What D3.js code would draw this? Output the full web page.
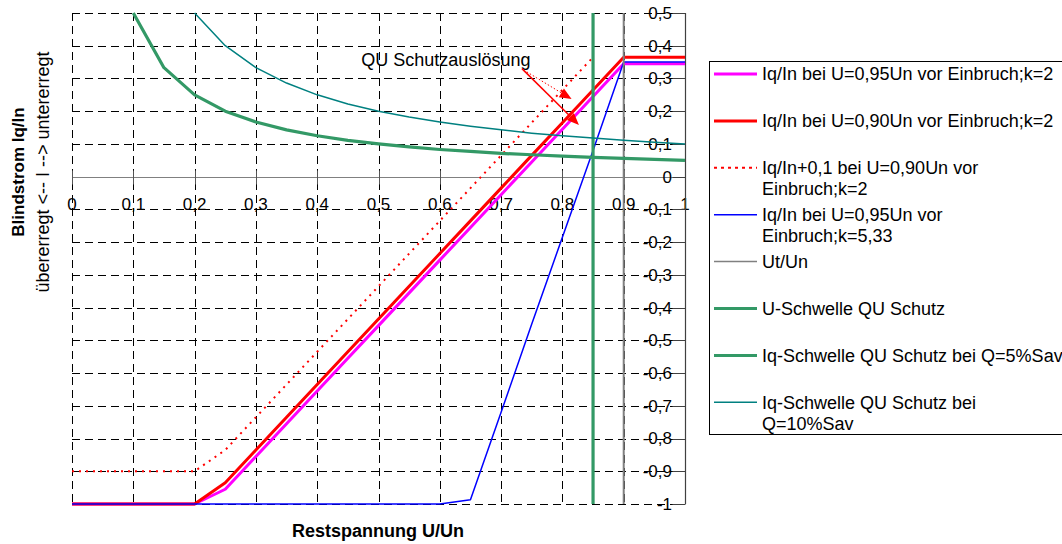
<!DOCTYPE html>
<html>
<head>
<meta charset="utf-8">
<script src="https://cdn.jsdelivr.net/npm/d3@7"></script>
<style>
  body { margin: 0; background: #fff; }
  svg { display: block; font-family: "Liberation Sans", Arial, sans-serif; }
</style>
</head>
<body>
<div id="container"></div>
<script>
// Restspannung U/Un (x values, step 0.05)
const uValues = [0, 0.05, 0.1, 0.15, 0.2, 0.25, 0.3, 0.35, 0.4, 0.45, 0.5,
                 0.55, 0.6, 0.65, 0.7, 0.75, 0.8, 0.85, 0.9, 0.95, 1];

const iq095k2 = [-1, -1, -1, -1, -1, -0.955, -0.855, -0.755, -0.655, -0.555, -0.455,
                 -0.355, -0.255, -0.155, -0.055, 0.045, 0.145, 0.245, 0.345, 0.345, 0.345];
const iq090k2 = [-1, -1, -1, -1, -1, -0.935, -0.835, -0.735, -0.635, -0.535, -0.435,
                 -0.335, -0.235, -0.135, -0.035, 0.065, 0.165, 0.265, 0.365, 0.365, 0.365];
const iq090k2plus = [-0.9, -0.9, -0.9, -0.9, -0.9, -0.835, -0.735, -0.635, -0.535, -0.435, -0.335,
                     -0.235, -0.135, -0.035, 0.065, 0.165, 0.265, 0.365, null, null, null];
const iq095k533 = [-1, -1, -1, -1, -1, -1, -1, -1, -1, -1, -1,
                   -1, -1, -0.987, -0.72, -0.45, -0.185, 0.08, 0.35, 0.35, 0.35];
const iqSchwelle5 = [null, null, 0.5, 0.333, 0.25, 0.2, 0.167, 0.143, 0.125, 0.111, 0.1,
                     0.091, 0.083, 0.077, 0.071, 0.067, 0.063, 0.059, 0.056, 0.053, 0.05];
const iqSchwelle10 = [null, null, null, null, 0.5, 0.4, 0.333, 0.286, 0.25, 0.222, 0.2,
                      0.182, 0.167, 0.154, 0.143, 0.133, 0.125, 0.118, 0.111, 0.105, 0.1];
const utUn = 0.9;        // vertical line Ut/Un
const uSchwelle = 0.85;  // U-Schwelle QU Schutz

const xTicks = [0, 0.1, 0.2, 0.3, 0.4, 0.5, 0.6, 0.7, 0.8, 0.9, 1];
const yTicks = [0.5, 0.4, 0.3, 0.2, 0.1, 0, -0.1, -0.2, -0.3, -0.4, -0.5, -0.6, -0.7, -0.8, -0.9, -1];

const legendLabels = [
    ["Iq/In bei U=0,95Un vor Einbruch;k=2"],
    ["Iq/In bei U=0,90Un vor Einbruch;k=2"],
    ["Iq/In+0,1 bei U=0,90Un vor", "Einbruch;k=2"],
    ["Iq/In bei U=0,95Un vor", "Einbruch;k=5,33"],
    ["Ut/Un"],
    ["U-Schwelle QU Schutz"],
    ["Iq-Schwelle QU Schutz bei Q=5%Sav"],
    ["Iq-Schwelle QU Schutz bei", "Q=10%Sav"]
];

const annotation = { text: "QU Schutzauslösung", x: 0.472, y: 0.338 };
const arrows = [
    { from: [0.734, 0.330], to: [0.827, 0.158], dash: null, width: 1.5 },
    { from: [0.742, 0.320], to: [0.815, 0.237], dash: "1.5,2", width: 1 }
];

const width = 1062, height = 544;
const fmt = v => String(v).replace(".", ",");

const svg = d3.select('#container').append('svg')
    .attr('width', width).attr('height', height);

const xScale = d3.scaleLinear().domain([0, 1]).range([72, 685]);
const yScale = d3.scaleLinear().domain([-1, 0.5]).range([504, 13]);

// grid
const grid = svg.append('g').attr('stroke', '#000').attr('stroke-width', 1)
    .attr('stroke-dasharray', '8,5').attr('fill', 'none');
yTicks.filter(v => v !== 0).forEach(v => {
    grid.append('line').attr('x1', xScale(0)).attr('x2', xScale(1))
        .attr('y1', Math.round(yScale(v)) + 0.5).attr('y2', Math.round(yScale(v)) + 0.5);
});
xTicks.filter(v => v !== 1).forEach(v => {
    grid.append('line').attr('y1', yScale(0.5)).attr('y2', yScale(-1))
        .attr('x1', Math.round(xScale(v)) + 0.5).attr('x2', Math.round(xScale(v)) + 0.5);
});

// x axis through y=0, ticks crossing the line
const xAxis = svg.append('g').attr('transform', `translate(0,${Math.round(yScale(0)) + 0.5})`);
xAxis.append('line').attr('x1', xScale(0)).attr('x2', xScale(1))
    .attr('stroke', '#808080').attr('stroke-width', 1.2);
xAxis.selectAll('.tk').data(xTicks).join('line')
    .attr('x1', d => Math.round(xScale(d)) + 0.5).attr('x2', d => Math.round(xScale(d)) + 0.5)
    .attr('y1', -7).attr('y2', 7).attr('stroke', '#555');
svg.append('g').selectAll('text').data(xTicks).join('text')
    .attr('x', d => xScale(d)).attr('y', yScale(-0.1) + 1)
    .attr('text-anchor', 'middle').attr('font-size', 17).attr('fill', '#000')
    .text(d => fmt(d));

// y axis at x=1
const yAxis = svg.append('g').attr('transform', `translate(${Math.round(xScale(1)) + 0.5},0)`);
yAxis.append('line').attr('y1', yScale(0.5)).attr('y2', yScale(-1))
    .attr('stroke', '#404040').attr('stroke-width', 1.2);
yAxis.selectAll('.tk').data(yTicks).join('line')
    .attr('y1', d => Math.round(yScale(d)) + 0.5).attr('y2', d => Math.round(yScale(d)) + 0.5)
    .attr('x1', -13).attr('x2', 0).attr('stroke', '#404040');
svg.append('g').selectAll('text').data(yTicks).join('text')
    .attr('x', xScale(1) - 13).attr('y', d => yScale(d)).attr('dy', '0.35em')
    .attr('text-anchor', 'end').attr('font-size', 17).attr('fill', '#000')
    .text(d => fmt(d));

// series
const line = d3.line()
    .defined(d => d[1] !== null)
    .x(d => xScale(d[0])).y(d => yScale(d[1]));
const pairs = vals => uValues.map((u, i) => [u, vals[i]]);

const plot = svg.append('g').attr('fill', 'none').attr('stroke-linejoin', 'round');
const drawSeries = (vals, color, w, dash) => {
    plot.append('path').attr('d', line(pairs(vals)))
        .attr('stroke', color).attr('stroke-width', w)
        .attr('stroke-dasharray', dash || null);
};
drawSeries(iq095k2, '#FF00FF', 3);
drawSeries(iq090k2, '#FF0000', 3);
drawSeries(iq090k2plus, '#FF0000', 2, '2,5');
drawSeries(iq095k533, '#0000FF', 1.5);
plot.append('path').attr('d', line([[utUn, 0.5], [utUn, -1]]))
    .attr('stroke', '#808080').attr('stroke-width', 2);
plot.append('path').attr('d', line([[uSchwelle, 0.5], [uSchwelle, -1]]))
    .attr('stroke', '#339966').attr('stroke-width', 3.2);
drawSeries(iqSchwelle5, '#339966', 3.2);
drawSeries(iqSchwelle10, '#008080', 1.5);

// annotation
svg.append('text').attr('x', xScale(annotation.x)).attr('y', yScale(annotation.y))
    .attr('font-size', 18).attr('fill', '#000').text(annotation.text);
arrows.forEach(a => {
    const x1 = xScale(a.from[0]), y1 = yScale(a.from[1]);
    const x2 = xScale(a.to[0]), y2 = yScale(a.to[1]);
    const ang = Math.atan2(y2 - y1, x2 - x1);
    const len = 12, half = 5;
    const bx = x2 - len * Math.cos(ang), by = y2 - len * Math.sin(ang);
    svg.append('line').attr('x1', x1).attr('y1', y1).attr('x2', bx).attr('y2', by)
        .attr('stroke', '#FF0000').attr('stroke-width', a.width)
        .attr('stroke-dasharray', a.dash);
    svg.append('path')
        .attr('d', `M${x2},${y2}L${bx - half * Math.sin(ang)},${by + half * Math.cos(ang)}L${bx + half * Math.sin(ang)},${by - half * Math.cos(ang)}Z`)
        .attr('fill', '#FF0000');
});

// axis titles
svg.append('text').attr('x', 378).attr('y', 537).attr('text-anchor', 'middle')
    .attr('font-size', 18).attr('font-weight', 'bold').text('Restspannung U/Un');
svg.append('text').attr('transform', 'translate(24,172) rotate(-90)')
    .attr('text-anchor', 'middle').attr('font-size', 17).attr('font-weight', 'bold')
    .text('Blindstrom Iq/In');
svg.append('text').attr('transform', 'translate(49,172) rotate(-90)')
    .attr('text-anchor', 'middle').attr('font-size', 18)
    .text('übererregt <-- I --> untererregt');

// legend
const legendStyles = [
    { color: '#FF00FF', w: 3 }, { color: '#FF0000', w: 3 },
    { color: '#FF0000', w: 2, dash: '3,4' }, { color: '#0000FF', w: 1.5 },
    { color: '#808080', w: 1.5 }, { color: '#339966', w: 3 },
    { color: '#339966', w: 3 }, { color: '#008080', w: 1.5 }
];
const legend = svg.append('g');
legend.append('rect').attr('x', 709.5).attr('y', 61.5).attr('width', 400).attr('height', 373)
    .attr('fill', '#fff').attr('stroke', '#000');
legendLabels.forEach((lbl, i) => {
    const y = 74 + i * 46.9;
    const st = legendStyles[i];
    legend.append('line').attr('x1', 714).attr('x2', 757).attr('y1', y).attr('y2', y)
        .attr('stroke', st.color).attr('stroke-width', st.w)
        .attr('stroke-dasharray', st.dash || null);
    lbl.forEach((t, j) => {
        legend.append('text').attr('x', 762).attr('y', y + j * 21).attr('dy', '0.35em')
            .attr('font-size', 18).attr('fill', '#000').text(t);
    });
});
</script>
</body>
</html>
